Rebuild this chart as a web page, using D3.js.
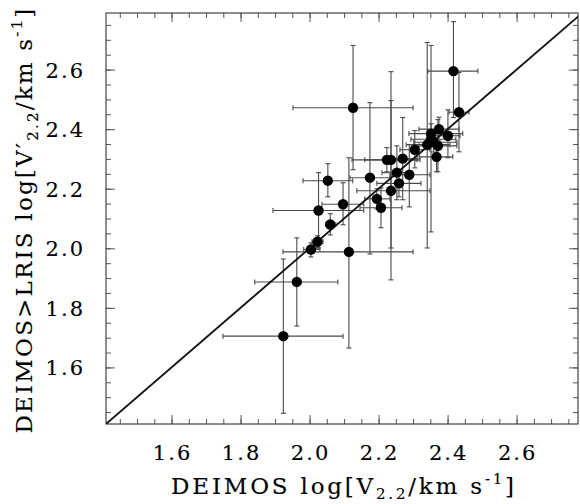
<!DOCTYPE html>
<html><head><meta charset="utf-8">
<script src="https://cdn.jsdelivr.net/npm/d3@7"></script>
<style>body{margin:0;background:#fff}svg{display:block}</style>
</head><body>
<script>
// Data (log velocities)
const xVal = [2.417,2.433,2.126,2.375,2.352,2.401,2.352,2.341,2.359,2.372,2.368,2.305,2.270,2.224,2.236,2.253,2.289,2.175,2.053,2.259,2.236,2.195,2.097,2.207,2.026,2.060,2.023,2.004,2.114,1.963,1.924];
const yVal = [2.595,2.457,2.472,2.400,2.385,2.378,2.366,2.348,2.356,2.344,2.307,2.331,2.301,2.297,2.297,2.254,2.247,2.237,2.227,2.218,2.193,2.166,2.148,2.136,2.127,2.080,2.022,1.996,1.988,1.887,1.705];
const xLo  = [2.343,2.404,1.952,2.317,2.288,2.366,2.294,2.280,2.302,2.317,2.319,2.262,2.227,2.123,2.160,2.210,2.233,2.117,1.981,2.195,2.137,2.160,2.036,2.146,1.894,2.047,2.007,1.983,1.923,1.841,1.749];
const xHi  = [2.488,2.462,2.300,2.433,2.444,2.436,2.424,2.407,2.427,2.427,2.415,2.349,2.314,2.320,2.311,2.297,2.349,2.233,2.125,2.323,2.349,2.233,2.157,2.268,2.157,2.076,2.039,2.030,2.300,2.082,2.097];
const yLo  = [2.439,2.324,2.264,2.360,2.351,2.304,2.055,2.001,2.323,2.257,2.257,2.270,2.163,2.257,2.001,2.163,2.139,1.981,2.173,2.173,1.894,2.132,2.079,2.069,2.001,2.045,2.001,1.971,1.665,1.739,1.446];
const yHi  = [2.761,2.590,2.681,2.440,2.418,2.465,2.681,2.691,2.390,2.432,2.358,2.395,2.439,2.338,2.593,2.344,2.348,2.489,2.284,2.264,2.496,2.200,2.220,2.203,2.254,2.116,2.042,2.018,2.304,2.035,1.964];
const tickVals = [1.6,1.8,2.0,2.2,2.4,2.6];
const tickLabels = ["1.6","1.8","2.0","2.2","2.4","2.6"];
const oneToOne = [1.41, 2.79];

const W=580,H=504, L=106, R=578, T=13, B=424;
const x = d3.scaleLinear().domain([1.41,2.778]).range([L,R]);
const y = d3.scaleLinear().domain([1.41,2.79]).range([B,T]);

const svg = d3.select("body").append("svg").attr("width",W).attr("height",H);
const minor = d3.range(1.45,2.78,0.05);
const tickColor="#555";
function makeAxis(gen, tr, vals, len){
  const g = svg.append("g").attr("transform",tr)
    .call(gen.tickValues(vals).tickSizeInner(-len).tickSizeOuter(0).tickFormat(""));
  g.selectAll("line").attr("stroke",tickColor);
  g.select(".domain").remove();
}
[[d3.axisBottom(x),`translate(0,${B})`],[d3.axisTop(x),`translate(0,${T})`],
 [d3.axisLeft(y),`translate(${L},0)`],[d3.axisRight(y),`translate(${R},0)`]].forEach(([g,tr])=>{
  makeAxis(g, tr, minor, 5);
  makeAxis(g, tr, tickVals, 9);
});

svg.append("rect").attr("x",L).attr("y",T).attr("width",R-L).attr("height",B-T)
  .attr("fill","none").attr("stroke","#444").attr("stroke-width",1.2);

// tick labels
const font = "'DejaVu Serif', 'Liberation Serif', serif";
const sw = 0.12;
svg.append("g").selectAll("text").data(tickVals).join("text")
  .attr("x",d=>x(d)+1).attr("y",460).attr("text-anchor","middle")
  .attr("font-family",font).attr("font-size",21).attr("letter-spacing",2)
  .attr("stroke","#000").attr("stroke-width",sw)
  .text((d,i)=>tickLabels[i]);
svg.append("g").selectAll("text").data(tickVals).join("text")
  .attr("x",85).attr("y",d=>y(d)+8).attr("text-anchor","end")
  .attr("font-family",font).attr("font-size",21).attr("letter-spacing",2)
  .attr("stroke","#000").attr("stroke-width",sw)
  .text((d,i)=>tickLabels[i]);

// axis titles
const xt = svg.append("text").attr("x",344).attr("y",494).attr("text-anchor","middle")
  .attr("font-family",font).attr("font-size",23).attr("letter-spacing",2.8)
  .attr("stroke","#000").attr("stroke-width",sw);
xt.append("tspan").text("DEIMOS log[V");
xt.append("tspan").attr("font-size",15).attr("dy",5).text("2.2");
xt.append("tspan").attr("dy",-5).text("/km s");
xt.append("tspan").attr("font-size",15).attr("dy",-10).text("-1");
xt.append("tspan").attr("dy",10).text("]");

const yt = svg.append("text").attr("transform","translate(32,220) rotate(-90)").attr("text-anchor","middle")
  .attr("font-family",font).attr("font-size",23).attr("letter-spacing",2.2)
  .attr("stroke","#000").attr("stroke-width",sw);
yt.append("tspan").text("DEIMOS>LRIS log[V′");
yt.append("tspan").attr("font-size",15).attr("dy",6).text("2.2");
yt.append("tspan").attr("dy",-6).text("/km s");
yt.append("tspan").attr("font-size",15).attr("dy",-10).text("-1");
yt.append("tspan").attr("dy",10).text("]");

// plot contents
svg.append("clipPath").attr("id","c").append("rect")
  .attr("x",L).attr("y",T).attr("width",R-L).attr("height",B-T);
const plot = svg.append("g").attr("clip-path","url(#c)");

const idx = d3.range(xVal.length);
const eb = plot.append("g").attr("stroke","#4a4a4a").attr("stroke-width",1.1).attr("fill","none");
const cap=2.5;
idx.forEach(i=>{
  const cx=x(xVal[i]), cy=y(yVal[i]);
  eb.append("line").attr("x1",x(xLo[i])).attr("x2",x(xHi[i])).attr("y1",cy).attr("y2",cy);
  eb.append("line").attr("x1",x(xLo[i])).attr("x2",x(xLo[i])).attr("y1",cy-cap).attr("y2",cy+cap);
  eb.append("line").attr("x1",x(xHi[i])).attr("x2",x(xHi[i])).attr("y1",cy-cap).attr("y2",cy+cap);
  eb.append("line").attr("x1",cx).attr("x2",cx).attr("y1",y(yLo[i])).attr("y2",y(yHi[i]));
  eb.append("line").attr("x1",cx-cap).attr("x2",cx+cap).attr("y1",y(yLo[i])).attr("y2",y(yLo[i]));
  eb.append("line").attr("x1",cx-cap).attr("x2",cx+cap).attr("y1",y(yHi[i])).attr("y2",y(yHi[i]));
});

plot.append("line").attr("x1",x(oneToOne[0])).attr("y1",y(oneToOne[0]))
  .attr("x2",x(oneToOne[1])).attr("y2",y(oneToOne[1]))
  .attr("stroke","#111").attr("stroke-width",1.8);

plot.append("g").selectAll("circle").data(idx).join("circle")
  .attr("cx",i=>x(xVal[i])).attr("cy",i=>y(yVal[i])).attr("r",5.2).attr("fill","#000");
</script>
</body></html>
